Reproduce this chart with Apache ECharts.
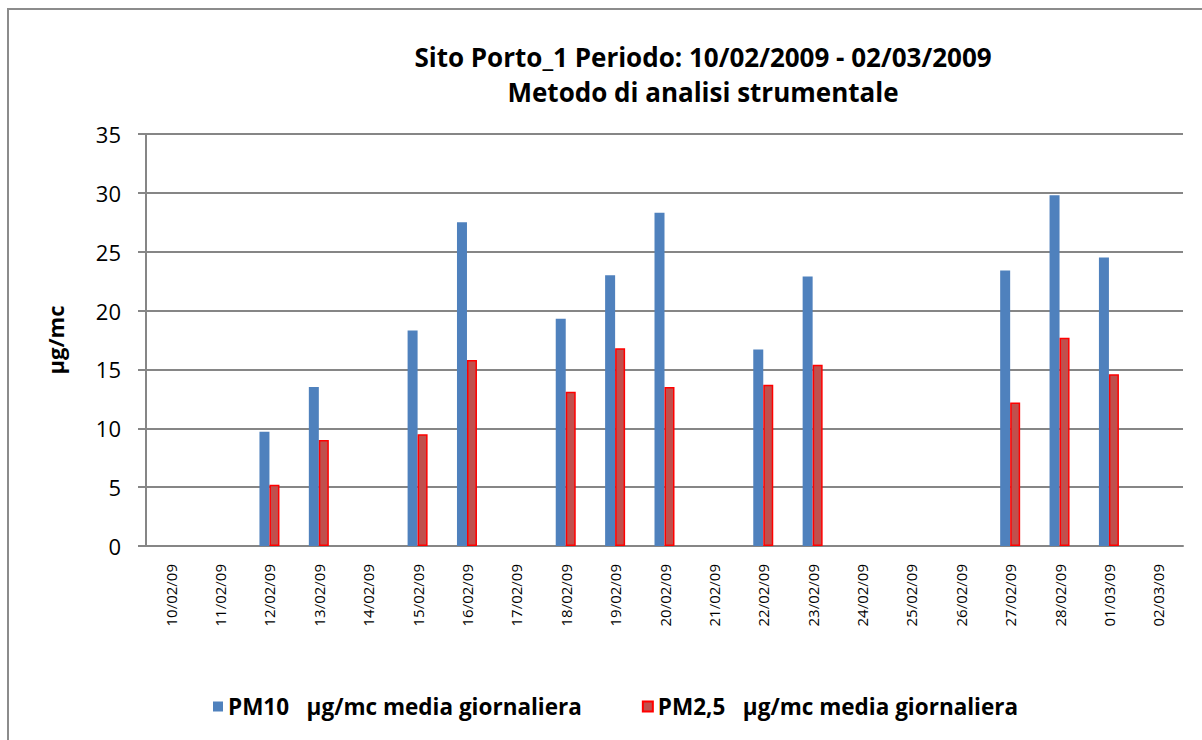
<!DOCTYPE html>
<html>
<head>
<meta charset="utf-8">
<script src="https://cdn.jsdelivr.net/npm/echarts@6/dist/echarts.min.js"></script>
<style>
html,body{margin:0;padding:0;background:#fff;}
#chart{width:1202px;height:740px;}
</style>
</head>
<body>
<div id="chart"></div>
<script>
const categories = ['10/02/09','11/02/09','12/02/09','13/02/09','14/02/09','15/02/09','16/02/09','17/02/09','18/02/09','19/02/09','20/02/09','21/02/09','22/02/09','23/02/09','24/02/09','25/02/09','26/02/09','27/02/09','28/02/09','01/03/09','02/03/09'];
const pm10 = [null,null,9.7,13.5,null,18.3,27.5,null,19.3,23.0,28.3,null,16.7,22.9,null,null,null,23.4,29.8,24.5,null];
const pm25 = [null,null,5.2,9.0,null,9.5,15.8,null,13.1,16.8,13.5,null,13.7,15.4,null,null,null,12.2,17.7,14.6,null];
const yTicks = [0,5,10,15,20,25,30,35];
const titleLines = ['Sito Porto_1 Periodo: 10/02/2009 - 02/03/2009','Metodo di analisi strumentale'];
const seriesNames = ['PM10   µg/mc media giornaliera','PM2,5   µg/mc media giornaliera'];
const yName = 'µg/mc';

const FONT = '"Open Sans", Lato, sans-serif';
const chart = echarts.init(document.getElementById('chart'), null, {renderer:'svg'});
chart.setOption({
  backgroundColor:'#fff',
  animation:false,
  graphic:[
    {type:'rect', shape:{x:8,y:9,width:1220,height:760}, style:{fill:'none',stroke:'#8c8c8c',lineWidth:2}, silent:true},
    {type:'text', x:703, y:57, style:{text:titleLines[0], align:'center', verticalAlign:'middle', font:'bold 26px '+FONT, fill:'#000'}},
    {type:'text', x:703, y:92, style:{text:titleLines[1], align:'center', verticalAlign:'middle', font:'bold 26px '+FONT, fill:'#000'}}
  ],
  grid:{left:146, top:134, right:19, bottom:194, containLabel:false},
  legend:{
    left:208, top:690, itemWidth:10, itemHeight:10, itemGap:60, icon:'rect',
    textStyle:{fontFamily:FONT, fontWeight:'bold', fontSize:22.5, color:'#000'},
    data:seriesNames
  },
  xAxis:{
    type:'category', data:categories,
    axisLine:{lineStyle:{color:'#868686', width:2}},
    axisTick:{show:false},
    axisLabel:{rotate:90, margin:18, fontFamily:FONT, fontSize:15, color:'#000', interval:0}
  },
  yAxis:{
    type:'value', min:0, max:35, interval:5,
    name:yName, nameLocation:'middle', nameGap:80, nameRotate:90,
    nameTextStyle:{fontFamily:FONT, fontWeight:'bold', fontSize:22, color:'#000'},
    axisLine:{show:true, lineStyle:{color:'#868686', width:2}},
    axisTick:{show:true, length:8, lineStyle:{color:'#868686', width:2}},
    splitLine:{lineStyle:{color:'#868686', width:2}},
    axisLabel:{margin:25, fontFamily:FONT, fontSize:22, color:'#000'}
  },
  series:[
    {name:seriesNames[0], type:'bar', data:pm10, barWidth:10, barGap:'0%',
     itemStyle:{color:'#4F81BD'}},
    {name:seriesNames[1], type:'bar', data:pm25, barWidth:10, barGap:'0%',
     itemStyle:{color:'#C0504D', borderColor:'#FF0000', borderWidth:1.5}}
  ]
});
</script>
</body>
</html>
